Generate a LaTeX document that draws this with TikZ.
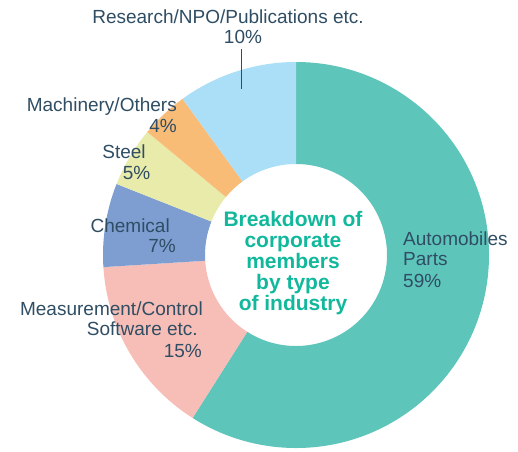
\documentclass[tikz,border=0pt]{standalone}
\usepackage{fontspec}
\setmainfont{Liberation Sans}
\definecolor{autoc}{HTML}{5EC5BB}
\definecolor{measc}{HTML}{F6BEB7}
\definecolor{chemc}{HTML}{7E9ED2}
\definecolor{steelc}{HTML}{E8EBAA}
\definecolor{machc}{HTML}{F9BC77}
\definecolor{resc}{HTML}{ABDFF8}
\definecolor{labelc}{HTML}{2F4D63}
\definecolor{centerc}{HTML}{12B89C}

\begin{document}
\begin{tikzpicture}[x=1pt, y=1pt,
  lbl/.style={text=labelc, font=\fontsize{19}{21}\selectfont, inner sep=0pt},
  ctr/.style={text=centerc, font=\fontsize{21}{21}\selectfont\bfseries, align=center, inner sep=0pt}]
  \useasboundingbox (-296,-196) rectangle (222,255);
  % ring
  \foreach \a/\b/\c in {-122.4/90/autoc, -176.4/-122.4/measc, -201.6/-176.4/chemc,
                        -219.6/-201.6/steelc, -234/-219.6/machc, -270/-234/resc}
    \fill[\c] (\a:91) arc[start angle=\a, end angle=\b, radius=91]
      -- (\b:193) arc[start angle=\b, end angle=\a, radius=193] -- cycle;
  \node[ctr] at (-3,-8) (title) {Breakdown of\\corporate\\members\\by type\\of industry};
  \node[lbl, anchor=base] at (-68,232) (res) {Research/NPO/Publications etc.};
  \node[lbl, anchor=base] at (-53,212) (resp) {10\%};
  \coordinate (tt) at (-55,206);
  \coordinate (tb) at (-55,166);
  \draw[labelc, line width=0.8pt] (tt) -- (tb);
  \node[lbl, anchor=base east] at (-119,144) (mach) {Machinery/Others};
  \node[lbl, anchor=base east] at (-119,123) (machp) {4\%};
  \node[lbl, anchor=base] at (-172,97) (steel) {Steel};
  \node[lbl, anchor=base] at (-159.5,76) (steelp) {5\%};
  \node[lbl, anchor=base east] at (-126,23) (chem) {Chemical};
  \node[lbl, anchor=base east] at (-120,3) (chemp) {7\%};
  \node[lbl, anchor=base east] at (-93,-60) (meas) {Measurement/Control};
  \node[lbl, anchor=base east] at (-98,-80) (soft) {Software etc.};
  \node[lbl, anchor=base east] at (-94,-102) (measp) {15\%};
  \node[lbl, anchor=base west] at (107,10) (auto) {Automobiles};
  \node[lbl, anchor=base west] at (107,-10) (parts) {Parts};
  \node[lbl, anchor=base west] at (107,-32) (autop) {59\%};
\end{tikzpicture}
\end{document}
